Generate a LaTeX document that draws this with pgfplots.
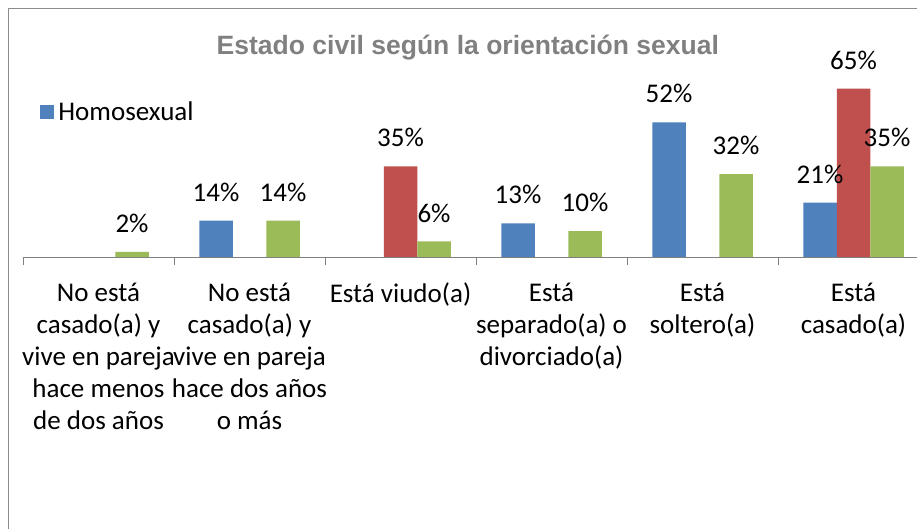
\documentclass[border=0pt]{standalone}
\usepackage{pgfplots}
\pgfplotsset{compat=1.18}
\usepackage{fontspec}
\setmainfont{Carlito}
\newfontfamily\titlefont{Liberation Sans}
\definecolor{cblue}{HTML}{4F81BD}
\definecolor{cred}{HTML}{C0504D}
\definecolor{cgreen}{HTML}{9BBB59}
\definecolor{ctitle}{HTML}{808080}
\definecolor{cframe}{HTML}{8C8C8C}
\begin{document}
\begin{tikzpicture}
\useasboundingbox (0,0) rectangle (917pt,529pt);
\clip (0,0) rectangle (917pt,529pt);
\draw[cframe, line width=1.3pt] (8.5pt,-20pt) -- (8.5pt,520.5pt) -- (940pt,520.5pt);
\begin{axis}[
  at={(23pt,272pt)}, anchor=south west,
  x=151pt, y=2.59pt,
  xmin=-0.5, xmax=5.5, ymin=0, ymax=80,
  clip=false,
  ybar=0pt, bar width=33.5pt,
  axis x line*=bottom, axis y line=none,
  axis line style={draw=gray, line width=0.9pt},
  xtick={0,...,5},
  major tick length=0pt,
  minor xtick={-0.5,0.5,...,5.5},
  minor tick length=8pt,
  tick align=outside,
  minor tick style={gray, line width=0.9pt},
  xticklabels={
    {No está\\casado(a) y\\vive en pareja\\hace menos\\de dos años},
    {No está\\casado(a) y\\vive en pareja\\hace dos años\\o más},
    {Está viudo(a)},
    {Está\\separado(a) o\\divorciado(a)},
    {Está\\soltero(a)},
    {Está\\casado(a)}},
  xticklabel style={font=\fontsize{27}{32}\selectfont, align=center, anchor=north, inner sep=0pt, yshift=-26pt},
  /pgf/number format/assume math mode=true,
  nodes near coords={\pgfmathprintnumber{\pgfplotspointmeta}\%},
  every node near coord/.append style={font=\fontsize{27}{30}\selectfont, black, inner sep=0pt, anchor=south, yshift=19pt},
  title={Estado civil según la orientación sexual},
  title style={font=\titlefont\bfseries\fontsize{26.5}{30}\selectfont, color=ctitle, at={(0.491,0.98)}, anchor=center},
  legend style={at={(0.019,0.70)}, anchor=west, draw=none, fill=none, font=\fontsize{27}{30}\selectfont, inner sep=0pt,
    nodes={inner xsep=4pt}},
]
\addplot[fill=cblue, draw=none, legend image code/.code={\fill[cblue] (0pt,-7pt) rectangle (14pt,7pt);}]
  coordinates {(1,14) (3,13) (4,52) (5,21)};
\addlegendentry{Homosexual}
\addplot[fill=cred, draw=none]
  coordinates {(2,35) (5,65)};
\addplot[fill=cgreen, draw=none]
  coordinates {(0,2) (1,14) (2,6) (3,10) (4,32) (5,35)};
\end{axis}
\end{tikzpicture}
\end{document}
